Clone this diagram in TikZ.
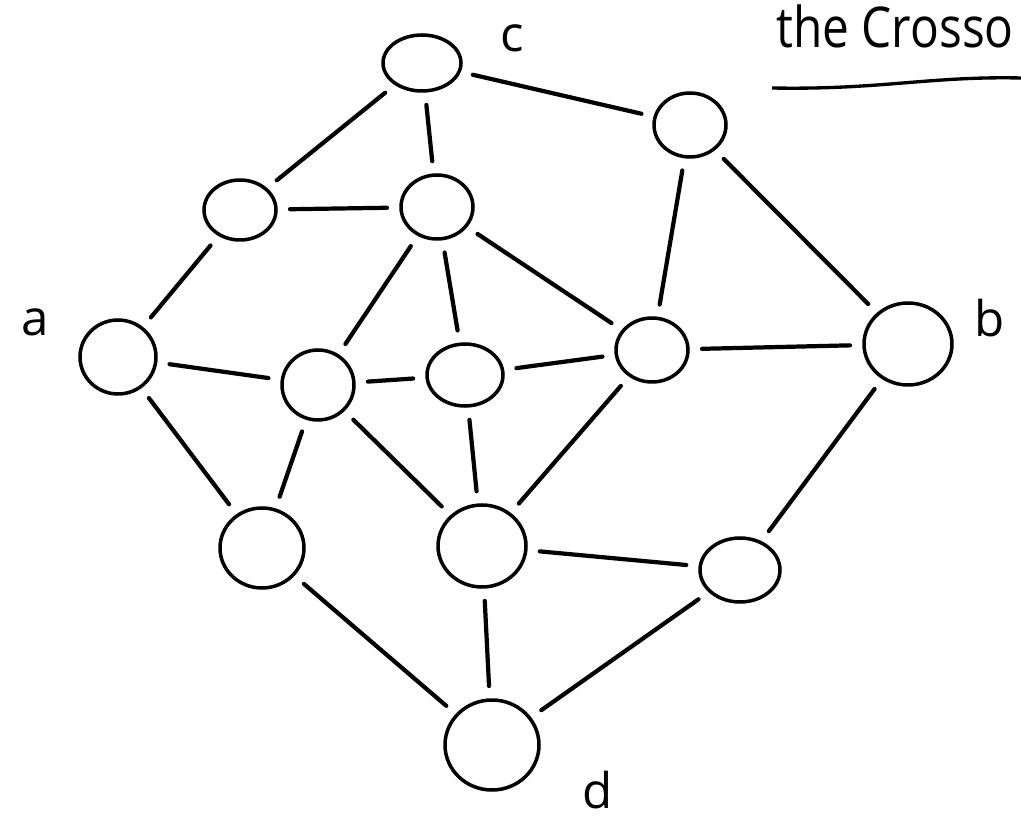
\documentclass[tikz,border=0pt]{standalone}
\usepackage{fontspec}
\setmainfont{Open Sans}
\usetikzlibrary{shapes.geometric}
\tikzset{
	vtx/.style={draw, ellipse, line width=2pt, inner sep=0pt,
		minimum width=1.44cm, minimum height=1.28cm},
	bigvtx/.style={vtx, minimum width=1.76cm, minimum height=1.64cm},
	edg/.style={line width=2.4pt, line cap=round, shorten <=7pt, shorten >=7pt},
	lbl/.style={font=\fontsize{28}{30}\selectfont, inner sep=0pt}
}

\begin{document}
\begin{tikzpicture}[x=0.02cm, y=-0.02cm]
	\useasboundingbox (0,0) rectangle (1021,820);
	% vertices
	\node[vtx, minimum width=1.56cm, minimum height=1.12cm] (c) at (422,63) {};
	\node[vtx] (tr) at (690,125) {};
	\node[vtx, minimum height=1.2cm] (ul) at (240,210) {};
	\node[vtx] (um) at (437,207) {};
	\node[vtx, minimum width=1.52cm, minimum height=1.48cm] (a) at (118,357) {};
	\node[vtx, minimum height=1.4cm] (ml) at (318,385) {};
	\node[vtx, minimum width=1.52cm, minimum height=1.24cm] (mc) at (465,375) {};
	\node[vtx] (mr) at (652,350) {};
	\node[bigvtx] (b) at (908,344) {};
	\node[bigvtx, minimum width=1.68cm, minimum height=1.6cm] (ll) at (262,548) {};
	\node[bigvtx] (lc) at (482,546) {};
	\node[vtx, minimum width=1.6cm, minimum height=1.28cm] (lr) at (740,570) {};
	\node[bigvtx, minimum width=1.88cm, minimum height=1.8cm] (d) at (492,745) {};
	% labels
	\node[lbl] (la) at (35,322) {a};
	\node[lbl] (lb) at (990,318) {b};
	\node[lbl] (lc-txt) at (512,38) {c};
	\node[lbl] (ld) at (598,790) {d};
	\node[lbl, font=\fontsize{32}{34}\selectfont, anchor=base west] (title) at (776,48)
		{\scalebox{0.85}[1]{the Crosso}};
	\coordinate (ul-l) at (772,88);
	\coordinate (ul-r) at (1021,78);
	\draw[line width=1.9pt] (ul-l) .. controls (880,90) and (930,76) .. (ul-r);
	% edges
	\draw[edg] (c) -- (ul);
	\draw[edg] (c) -- (um);
	\draw[edg] (c) -- (tr);
	\draw[edg] (tr) -- (b);
	\draw[edg] (tr) -- (mr);
	\draw[edg] (ul) -- (um);
	\draw[edg] (ul) -- (a);
	\draw[edg] (um) -- (ml);
	\draw[edg] (um) -- (mc);
	\draw[edg] (um) -- (mr);
	\draw[edg] (a) -- (ml);
	\draw[edg] (a) -- (ll);
	\draw[edg] (ml) -- (mc);
	\draw[edg] (ml) -- (ll);
	\draw[edg] (ml) -- (lc);
	\draw[edg] (mc) -- (mr);
	\draw[edg] (mc) -- (lc);
	\draw[edg] (mr) -- (b);
	\draw[edg] (mr) -- (lc);
	\draw[edg] (b) -- (lr);
	\draw[edg] (lc) -- (lr);
	\draw[edg] (ll) -- (d);
	\draw[edg] (lc) -- (d);
	\draw[edg] (lr) -- (d);
\end{tikzpicture}
\end{document}
